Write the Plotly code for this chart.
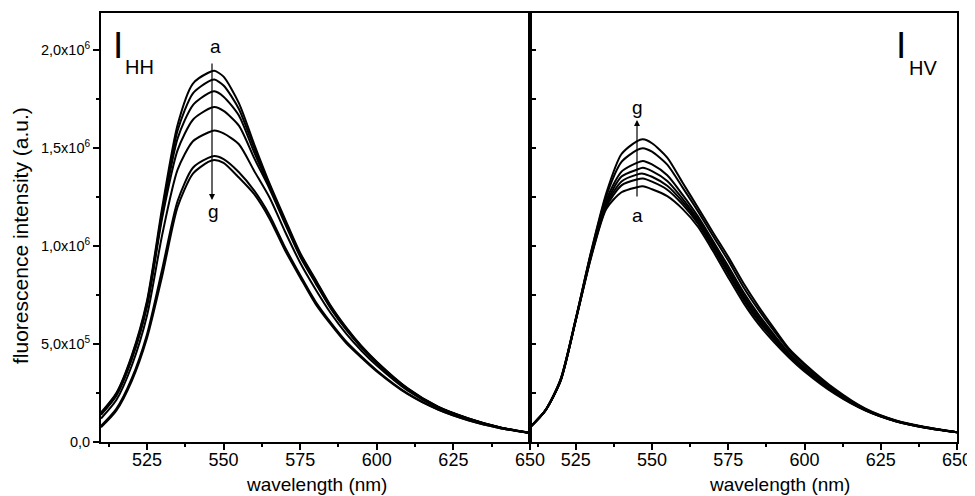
import plotly.graph_objects as go

# ---------------- data ----------------
wavelength = [510, 515, 520, 525, 530, 535, 540, 545, 547, 550, 555, 560, 565,
              570, 575, 580, 585, 590, 595, 600, 610, 620, 630, 640, 650]

# I_HH panel (intensity in units of 1e6), curves a..g
hh_a = [0.15, 0.25, 0.44, 0.72, 1.20, 1.62, 1.83, 1.885, 1.895, 1.865, 1.73, 1.52, 1.32, 1.14, 0.965, 0.83, 0.695, 0.585, 0.49, 0.41, 0.275, 0.18, 0.12, 0.075, 0.047]
hh_b = [0.146, 0.245, 0.433, 0.71, 1.18, 1.59, 1.78, 1.84, 1.85, 1.82, 1.70, 1.50, 1.311, 1.132, 0.959, 0.824, 0.69, 0.581, 0.487, 0.407, 0.273, 0.179, 0.119, 0.075, 0.047]
hh_c = [0.142, 0.241, 0.427, 0.70, 1.165, 1.55, 1.72, 1.78, 1.79, 1.763, 1.667, 1.478, 1.302, 1.124, 0.952, 0.817, 0.685, 0.577, 0.484, 0.405, 0.272, 0.178, 0.119, 0.075, 0.047]
hh_d = [0.139, 0.236, 0.42, 0.69, 1.147, 1.49, 1.645, 1.70, 1.71, 1.69, 1.615, 1.449, 1.293, 1.116, 0.946, 0.811, 0.681, 0.573, 0.481, 0.402, 0.27, 0.178, 0.118, 0.074, 0.047]
hh_e = [0.12, 0.214, 0.388, 0.644, 1.06, 1.39, 1.535, 1.58, 1.59, 1.575, 1.52, 1.384, 1.248, 1.076, 0.915, 0.78, 0.657, 0.553, 0.466, 0.39, 0.263, 0.174, 0.116, 0.074, 0.046]
hh_f = [0.082, 0.169, 0.323, 0.549, 0.885, 1.23, 1.40, 1.45, 1.46, 1.444, 1.377, 1.283, 1.158, 0.996, 0.852, 0.717, 0.609, 0.513, 0.436, 0.365, 0.248, 0.166, 0.111, 0.072, 0.045]
hh_g = [0.075, 0.16, 0.31, 0.53, 0.85, 1.20, 1.37, 1.43, 1.44, 1.425, 1.35, 1.265, 1.14, 0.98, 0.84, 0.705, 0.60, 0.505, 0.43, 0.36, 0.245, 0.165, 0.11, 0.072, 0.045]

# I_HV panel (intensity in units of 1e6), curves a..g
hv_a = [0.075, 0.16, 0.31, 0.62, 0.94, 1.19, 1.275, 1.30, 1.305, 1.29, 1.255, 1.19, 1.10, 0.975, 0.84, 0.71, 0.60, 0.51, 0.43, 0.36, 0.245, 0.16, 0.105, 0.072, 0.05]
hv_b = [0.075, 0.16, 0.31, 0.62, 0.945, 1.20, 1.31, 1.34, 1.345, 1.329, 1.288, 1.213, 1.116, 0.991, 0.858, 0.727, 0.615, 0.522, 0.438, 0.367, 0.249, 0.162, 0.106, 0.072, 0.05]
hv_c = [0.075, 0.16, 0.312, 0.622, 0.95, 1.21, 1.33, 1.365, 1.37, 1.354, 1.308, 1.227, 1.127, 1.001, 0.868, 0.737, 0.624, 0.529, 0.442, 0.371, 0.252, 0.163, 0.106, 0.073, 0.05]
hv_d = [0.075, 0.16, 0.314, 0.624, 0.955, 1.22, 1.355, 1.39, 1.40, 1.383, 1.333, 1.243, 1.139, 1.013, 0.882, 0.75, 0.636, 0.538, 0.448, 0.376, 0.255, 0.164, 0.107, 0.073, 0.05]
hv_e = [0.075, 0.16, 0.315, 0.625, 0.96, 1.235, 1.38, 1.425, 1.435, 1.417, 1.362, 1.263, 1.153, 1.026, 0.897, 0.764, 0.649, 0.548, 0.454, 0.382, 0.259, 0.165, 0.108, 0.074, 0.05]
hv_f = [0.075, 0.16, 0.318, 0.628, 0.966, 1.255, 1.43, 1.49, 1.50, 1.482, 1.416, 1.30, 1.18, 1.052, 0.926, 0.79, 0.673, 0.567, 0.467, 0.393, 0.265, 0.168, 0.109, 0.074, 0.05]
hv_g = [0.075, 0.16, 0.32, 0.63, 0.97, 1.27, 1.47, 1.535, 1.545, 1.525, 1.452, 1.325, 1.198, 1.07, 0.945, 0.81, 0.69, 0.58, 0.475, 0.40, 0.27, 0.17, 0.11, 0.075, 0.05]

scale = 1e6
x_major = [525, 550, 575, 600, 625, 650]
x_minor = [512.5, 537.5, 562.5, 587.5, 612.5, 637.5]
x_all = [512.5, 525, 537.5, 550, 562.5, 575, 587.5, 600, 612.5, 625, 637.5, 650]
y_major = [0, 5e5, 1e6, 1.5e6, 2e6]
y_major_text = ["0,0", "5,0x10<sup>5</sup>", "1,0x10<sup>6</sup>", "1,5x10<sup>6</sup>", "2,0x10<sup>6</sup>"]
y_minor = [2.5e5, 7.5e5, 1.25e6, 1.75e6]
y_all = [2.5e5, 5e5, 7.5e5, 1e6, 1.25e6, 1.5e6, 1.75e6, 2e6]

# ---------------- layout geometry ----------------
# the page body adds an 8 px offset, so the figure is 8 px smaller
OFF = 8
W, H = 975 - OFF, 496 - OFF
ML, MT = 101 - OFF, 13 - OFF
MR = W - (957 - OFF)
MB = H - (442 - OFF)
PW, PH = W - ML - MR, H - MT - MB
split = (530 - 101) / PW


def xp(px):  # reference screen px -> paper
    return (px - 101) / PW


def yp(py):
    return (442 - py) / PH


fig = go.Figure()
for s in [hh_a, hh_b, hh_c, hh_d, hh_e, hh_f, hh_g]:
    fig.add_trace(go.Scatter(x=wavelength, y=[v * scale for v in s], mode="lines",
                             line=dict(color="black", width=2, shape="spline", smoothing=0.7),
                             xaxis="x", yaxis="y", hoverinfo="skip"))
for s in [hv_a, hv_b, hv_c, hv_d, hv_e, hv_f, hv_g]:
    fig.add_trace(go.Scatter(x=wavelength, y=[v * scale for v in s], mode="lines",
                             line=dict(color="black", width=2, shape="spline", smoothing=0.7),
                             xaxis="x2", yaxis="y2", hoverinfo="skip"))

yr = [0, 2.19e6]
xr = [510, 650]
base = dict(showgrid=False, zeroline=False, color="black")
bottom_x = dict(base, range=xr, tickmode="array", tickvals=x_major,
                ticktext=[str(v) for v in x_major], ticks="outside", ticklen=6,
                tickwidth=1.5, tickcolor="black", showline=True, linewidth=2,
                linecolor="black", mirror=True, tickfont=dict(size=18),
                ticklabelstandoff=-6,
                minor=dict(tickmode="array", tickvals=x_minor, ticks="outside",
                           ticklen=3, tickwidth=1.5, tickcolor="black"))
top_x = dict(base, range=xr, tickmode="array", tickvals=x_all, ticks="inside",
             ticklen=5, tickwidth=1.5, tickcolor="black", showticklabels=False,
             showline=False, side="top")

fig.update_layout(
    width=W, height=H,
    margin=dict(l=ML, r=MR, t=MT, b=MB, autoexpand=False),
    paper_bgcolor="white", plot_bgcolor="white",
    showlegend=False,
    font=dict(family="Liberation Sans, Arial, sans-serif", color="black"),
    xaxis=dict(bottom_x, domain=[0, split], anchor="y"),
    xaxis2=dict(bottom_x, domain=[split, 1], anchor="y2"),
    xaxis3=dict(top_x, overlaying="x", anchor="y"),
    xaxis4=dict(top_x, overlaying="x2", anchor="y2"),
    yaxis=dict(base, domain=[0, 1], anchor="x", range=yr, tickmode="array",
               tickvals=y_major, ticktext=y_major_text, ticks="outside",
               ticklen=6, tickwidth=1.5, tickcolor="black", showline=True,
               linewidth=2, linecolor="black", mirror=True,
               tickfont=dict(size=14.5),
               minor=dict(tickmode="array", tickvals=y_minor, ticks="outside",
                          ticklen=3, tickwidth=1.5, tickcolor="black")),
    yaxis2=dict(base, domain=[0, 1], anchor="x2", range=yr, tickmode="array",
                tickvals=y_all, ticks="inside", ticklen=6, tickwidth=1.5,
                tickcolor="black", showticklabels=False, showline=True,
                linewidth=2, linecolor="black", mirror=True),
    yaxis4=dict(base, overlaying="y2", anchor="x2", side="right", range=yr,
                tickmode="array", tickvals=y_all, ticks="inside", ticklen=6,
                tickwidth=1.5, tickcolor="black", showticklabels=False,
                showline=False),
)

ann = []


def text(px, py, t, size, **kw):
    ann.append(dict(x=xp(px), y=yp(py), xref="paper", yref="paper", text=t,
                    showarrow=False, font=dict(size=size), xanchor="center",
                    yanchor="middle", **kw))


# axis titles
text(316, 484, "wavelength (nm)", 19)
text(779, 484, "wavelength (nm)", 19)
text(20, 236, "fluorescence intensity (a.u.)", 21, textangle=-90)
# panel labels
text(118, 46, "I", 37)
text(139, 67, "HH", 20)
text(901, 46, "I", 37)
text(923, 68, "HV", 20)
# curve labels
text(215, 47, "a", 19)
text(213, 212, "g", 19)
text(637, 107, "g", 19)
text(637, 216, "a", 19)

# arrows
ann.append(dict(x=xp(212), y=yp(200), xref="paper", yref="paper", text="",
                showarrow=True, ax=0, ay=-138, arrowhead=2, arrowsize=1,
                arrowwidth=1.2, arrowcolor="black"))
ann.append(dict(x=xp(637), y=yp(120), xref="paper", yref="paper", text="",
                showarrow=True, ax=0, ay=78, arrowhead=2, arrowsize=1,
                arrowwidth=1.2, arrowcolor="black"))

fig.update_layout(annotations=ann)
fig.write_html("out.html")
